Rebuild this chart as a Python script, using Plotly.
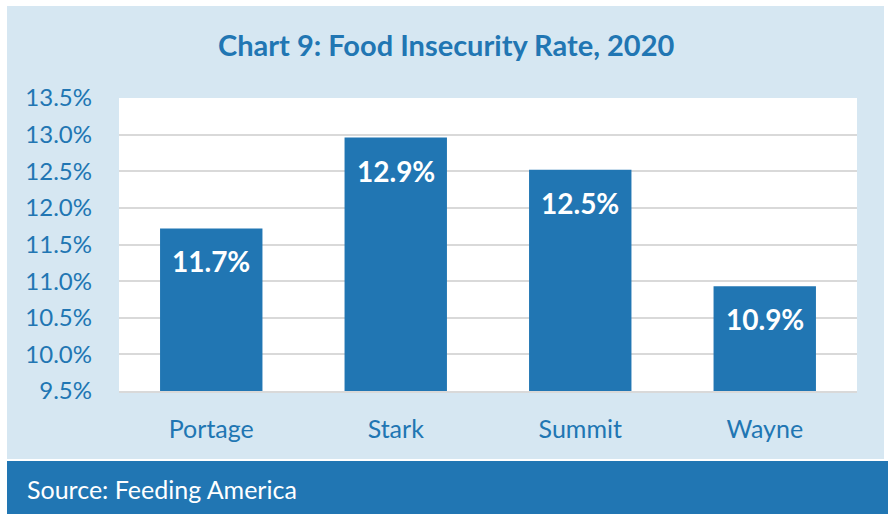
import plotly.graph_objects as go

categories = ["Portage", "Stark", "Summit", "Wayne"]
values = [11.72, 12.96, 12.52, 10.93]
labels = ["11.7%", "12.9%", "12.5%", "10.9%"]
tick_vals = [9.5, 10.0, 10.5, 11.0, 11.5, 12.0, 12.5, 13.0, 13.5]
tick_text = ["9.5%", "10.0%", "10.5%", "11.0%", "11.5%", "12.0%", "12.5%", "13.0%", "13.5%"]

W, H = 888, 514
ML, MR, MT, MB = 119, 31, 98, 123
PW, PH = W - ML - MR, H - MT - MB

def px(x):
    return (x - ML) / PW

def py(y):
    return (H - MB - y) / PH

LIGHT = "#d6e7f2"
DARK = "#2176b3"
FONT = "Lato"

fig = go.Figure()
fig.add_trace(go.Bar(
    x=categories, y=values, marker=dict(color=DARK, line=dict(width=0)),
    hoverinfo="skip",
))

for c, v, t in zip(categories, values, labels):
    fig.add_annotation(x=c, y=v, text=f"<b>{t}</b>", showarrow=False,
                       yanchor="top", yshift=-14,
                       font=dict(family=FONT, size=28, color="white"))

shapes = [
    dict(type="rect", xref="paper", yref="paper", x0=px(7), x1=px(884), y0=py(459), y1=py(6),
         fillcolor=LIGHT, line=dict(width=0), layer="below"),
    dict(type="rect", xref="paper", yref="paper", x0=px(7), x1=px(888), y0=py(514), y1=py(461),
         fillcolor=DARK, line=dict(width=0), layer="below"),
    dict(type="rect", xref="paper", yref="paper", x0=0, x1=1, y0=0, y1=1,
         fillcolor="white", line=dict(width=0), layer="below"),
]

fig.add_annotation(xref="paper", yref="paper", x=px(446), y=py(45), text="<b>Chart 9: Food Insecurity Rate, 2020</b>",
                   showarrow=False, xanchor="center", yanchor="middle",
                   font=dict(family=FONT, size=29, color=DARK))
fig.add_annotation(xref="paper", yref="paper", x=px(25), y=py(489), text="Source: Feeding America",
                   showarrow=False, xanchor="left", yanchor="middle",
                   font=dict(family=FONT, size=25, color="white"))

fig.update_layout(
    width=W, height=H, margin=dict(l=ML, r=MR, t=MT, b=MB),
    paper_bgcolor="white", plot_bgcolor="rgba(0,0,0,0)",
    showlegend=False, bargap=0.445, shapes=shapes,
    font=dict(family=FONT, color=DARK),
)
fig.update_xaxes(showgrid=False, showline=True, linecolor="#d9d9d9", linewidth=2,
                 tickfont=dict(family=FONT, size=25, color=DARK), ticks="", ticklabelstandoff=15)
fig.update_yaxes(range=[9.5, 13.5], tickvals=tick_vals, ticktext=tick_text,
                 showgrid=True, gridcolor="#d9d9d9", gridwidth=2, zeroline=False,
                 tickfont=dict(family=FONT, size=24, color=DARK), ticks="", ticklabelstandoff=26)

fig.write_html("out.html", config={"displayModeBar": False},
               post_script="document.body.style.margin='0';")
